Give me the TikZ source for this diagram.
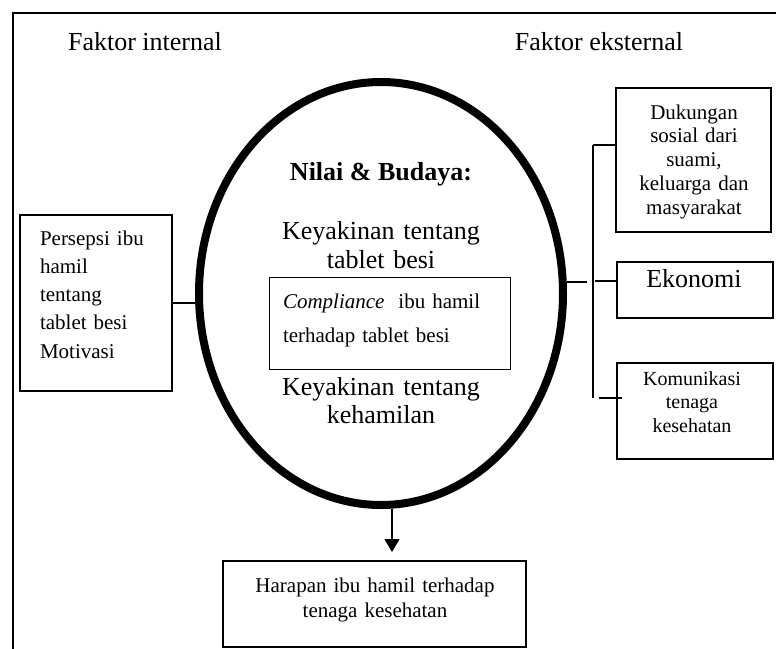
\documentclass[tikz,border=0pt]{standalone}
\usepackage{fontspec}
\setmainfont{Liberation Serif}
\usetikzlibrary{shapes.geometric,arrows.meta}
\begin{document}
\begin{tikzpicture}[x=1pt,y=-1pt,
  box/.style={draw, rectangle, line width=1.6pt, inner sep=0pt, outer sep=0pt},
  thinbox/.style={draw, rectangle, line width=1pt, inner sep=0pt, outer sep=0pt},
  lbl/.style={inner sep=0pt, outer sep=0pt, anchor=base},
  mlbl/.style={inner sep=0pt, outer sep=0pt, anchor=base, align=center, text width=#1},
  llbl/.style={inner sep=0pt, outer sep=0pt, anchor=base west, align=left, text width=#1},
  conn/.style={line width=1.4pt},
  frameline/.style={line width=1.5pt},
  arr/.style={line width=1.5pt, -{Triangle[width=15pt,length=13pt]}}]
\useasboundingbox (0,0) rectangle (776,648);
\clip (0,0) rectangle (776,648);
\fill[white] (0,0) rectangle (776,648);
% outer frame
\draw[frameline] (13,700) -- (13,13) -- (800,13);
% headings
\node[lbl, font=\fontsize{26}{29}\selectfont] (hint) at (145,50) {Faktor internal};
\node[lbl, font=\fontsize{26}{29}\selectfont] (hext) at (599,50) {Faktor eksternal};
% central ellipse
\node[draw, ellipse, line width=8pt, minimum width=364pt, minimum height=423pt, inner sep=0pt] (ell) at (381,293.5) {};
\node[lbl, font=\fontsize{26}{29}\selectfont\bfseries] (nilai) at (381,180) {Nilai \& Budaya:};
\node[mlbl=240pt, font=\fontsize{26}{29}\selectfont] (kyk1) at (381,239) {Keyakinan tentang\\tablet besi};
\node[mlbl=240pt, font=\fontsize{26}{28}\selectfont] (kyk2) at (381,395) {Keyakinan tentang\\kehamilan};
% inner box
\node[thinbox, minimum width=241pt, minimum height=92pt] (comp) at (389.5,323) {};
\node[llbl=225pt, font=\fontsize{21}{34}\selectfont] (compT) at (283,308) {\textit{Compliance}\ \ ibu hamil\\terhadap tablet besi};
% left box
\node[box, minimum width=152pt, minimum height=176pt] (pers) at (96,303) {};
\node[llbl=130pt, font=\fontsize{21}{28.25}\selectfont] (persT) at (40,245) {Persepsi ibu\\hamil\\tentang\\tablet besi\\Motivasi};
% right boxes
\node[box, minimum width=155pt, minimum height=144pt] (duk) at (693.5,160) {};
\node[mlbl=150pt, font=\fontsize{21}{23.75}\selectfont] (dukT) at (694,119) {Dukungan\\sosial dari\\suami,\\keluarga dan\\masyarakat};
\node[box, minimum width=156pt, minimum height=56pt] (eko) at (695,290) {};
\node[lbl, font=\fontsize{26}{29}\selectfont] (ekoT) at (694,287) {Ekonomi};
\node[box, minimum width=156pt, minimum height=96pt] (kom) at (695,411) {};
\node[mlbl=150pt, font=\fontsize{20}{23.5}\selectfont] (komT) at (692,385) {Komunikasi\\tenaga\\kesehatan};
% bottom box
\node[box, minimum width=303pt, minimum height=86pt] (har) at (374.5,604) {};
\node[mlbl=290pt, font=\fontsize{21}{25}\selectfont] (harT) at (375,592) {Harapan ibu hamil terhadap\\tenaga kesehatan};
% connectors
\coordinate (trTop) at (593,145);
\coordinate (trBot) at (593,398);
\coordinate (trEko) at (595,281);
\coordinate (trKom) at (599,398);
\coordinate (ejoin) at (587,282);
\coordinate (arrtip) at (392,552);
\draw[conn] (trTop) -- (trBot);
\draw[conn] (trTop) -- (trTop -| duk.west);
\draw[conn] (trEko) -- (trEko -| eko.west);
\draw[conn] (trKom) -- ([xshift=5pt]trKom -| kom.west);
\draw[conn] (ejoin -| ell.east) -- (ejoin);
\draw[conn] (pers.east) -- (pers.east -| ell.west);
\draw[arr] (ell.south -| arrtip) -- (arrtip);
\end{tikzpicture}
\end{document}
